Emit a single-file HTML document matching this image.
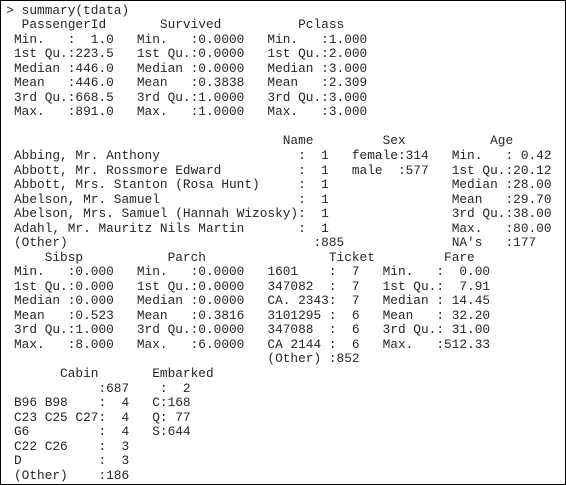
<!DOCTYPE html>
<html><head><meta charset="utf-8"><style>
html,body{margin:0;padding:0;background:#fff;}
#f{position:relative;width:564px;height:483px;border:1px solid #000;overflow:hidden;background:#fff;}
pre{position:absolute;left:5.3px;top:2.7px;margin:0;font-family:"Liberation Mono",monospace;font-size:12.8px;line-height:14.53px;color:#262626;white-space:pre;}
</style></head><body><div id="f"><pre>&gt; summary(tdata)
  PassengerId       Survived          Pclass
 Min.   :  1.0   Min.   :0.0000   Min.   :1.000  
 1st Qu.:223.5   1st Qu.:0.0000   1st Qu.:2.000  
 Median :446.0   Median :0.0000   Median :3.000  
 Mean   :446.0   Mean   :0.3838   Mean   :2.309  
 3rd Qu.:668.5   3rd Qu.:1.0000   3rd Qu.:3.000  
 Max.   :891.0   Max.   :1.0000   Max.   :3.000  

                                    Name         Sex           Age
 Abbing, Mr. Anthony                  :  1   female:314   Min.   : 0.42  
 Abbott, Mr. Rossmore Edward          :  1   male  :577   1st Qu.:20.12  
 Abbott, Mrs. Stanton (Rosa Hunt)     :  1                Median :28.00  
 Abelson, Mr. Samuel                  :  1                Mean   :29.70  
 Abelson, Mrs. Samuel (Hannah Wizosky):  1                3rd Qu.:38.00  
 Adahl, Mr. Mauritz Nils Martin       :  1                Max.   :80.00  
 (Other)                                :885              NA's   :177  
     Sibsp           Parch                Ticket         Fare
 Min.   :0.000   Min.   :0.0000   1601    :  7   Min.   :  0.00  
 1st Qu.:0.000   1st Qu.:0.0000   347082  :  7   1st Qu.:  7.91  
 Median :0.000   Median :0.0000   CA. 2343:  7   Median : 14.45  
 Mean   :0.523   Mean   :0.3816   3101295 :  6   Mean   : 32.20  
 3rd Qu.:1.000   3rd Qu.:0.0000   347088  :  6   3rd Qu.: 31.00  
 Max.   :8.000   Max.   :6.0000   CA 2144 :  6   Max.   :512.33  
                                  (Other) :852                   
       Cabin       Embarked
            :687    :  2  
 B96 B98    :  4   C:168  
 C23 C25 C27:  4   Q: 77  
 G6         :  4   S:644  
 C22 C26    :  3  
 D          :  3  
 (Other)    :186  </pre></div></body></html>
